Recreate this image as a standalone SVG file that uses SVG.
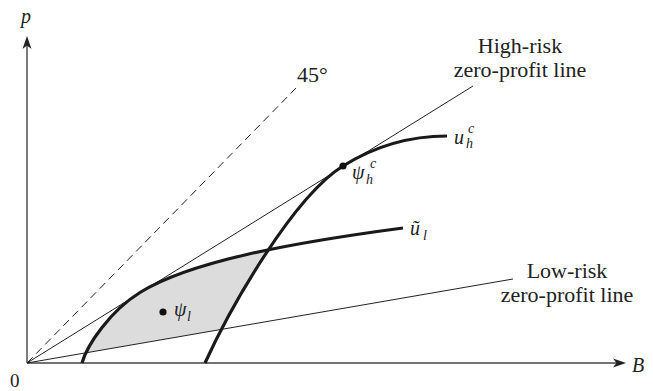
<svg xmlns="http://www.w3.org/2000/svg" width="653" height="391" viewBox="0 0 653 391">
<style>
text{font-family:"Liberation Serif","Times New Roman","DejaVu Serif",serif;fill:#222}
.lbl{font-size:22px}
.m{font-style:italic;font-size:20px}
.s{font-style:italic;font-size:14px}
.thin{stroke:#222;stroke-width:1;fill:none}
.axis{stroke:#444;stroke-width:1.4;fill:none}
.thick{stroke:#1a1a1a;stroke-width:3.2;fill:none;stroke-linecap:butt}
</style>
<defs>
<clipPath id="aboveLow"><path d="M0,363 L27,363 L653,254.7 L653,0 L0,0 Z"/></clipPath>
<clipPath id="leftUh"><path d="M205,363 C230,308 293,197 343,166 C383,141 420,136 447,136 L447,0 L0,0 L0,400 L205,400 Z"/></clipPath>
</defs>
<g id="shade" clip-path="url(#aboveLow)">
<path clip-path="url(#leftUh)" d="M82,363 C87,345 110,311 140,292.5 C190,261.5 290,243 403,228 L403,400 L82,400 Z" fill="#dcdcdc"/>
</g>
<g id="axes">
<line class="axis" x1="27" y1="363" x2="27" y2="42"/>
<line class="axis" x1="27" y1="363" x2="619" y2="363"/>
<polygon points="27,36 22.5,49 27,45.5 31.5,49" fill="#222"/>
<polygon points="626,363 613,358.5 616.5,363 613,367.5" fill="#222"/>
<text class="m" x="21" y="23">p</text>
<text class="m" x="632" y="372">B</text>
<text x="10" y="387" font-size="19">0</text>
</g>
<g id="connectors">
<line class="thin" x1="27" y1="363" x2="296" y2="88" stroke-dasharray="8,5"/>
<line class="thin" x1="27" y1="363" x2="473" y2="86"/>
<line class="thin" x1="27" y1="363" x2="513" y2="279"/>
</g>
<g id="uh">
<path class="thick" d="M205,363 C230,308 293,197 343,166 C383,141 420,136 447,136"/>
<text class="m" x="454" y="144">u</text>
<text class="s" x="468" y="133">c</text>
<text class="s" x="466" y="148">h</text>
</g>
<g id="ul">
<path class="thick" d="M82,363 C87,345 110,311 140,292.5 C190,261.5 290,243 403,228"/>
<text class="m" x="410" y="235">ũ</text>
<text class="s" x="423" y="240">l</text>
</g>
<g id="psi-h">
<circle cx="343" cy="166" r="3.6" fill="#111"/>
<text class="m" x="352" y="179">ψ</text>
<text class="s" x="366" y="184">h</text>
<text class="s" x="370" y="168">c</text>
</g>
<g id="psi-l">
<circle cx="163" cy="312" r="3.6" fill="#111"/>
<text class="m" x="174" y="316">ψ</text>
<text class="s" x="187" y="321">l</text>
</g>
<g id="label-45">
<text class="lbl" x="297" y="82">45°</text>
</g>
<g id="label-high">
<text class="lbl" x="520" y="53" text-anchor="middle">High-risk</text>
<text class="lbl" x="520" y="77" text-anchor="middle">zero-profit line</text>
</g>
<g id="label-low">
<text class="lbl" x="567" y="278" text-anchor="middle">Low-risk</text>
<text class="lbl" x="567" y="302" text-anchor="middle">zero-profit line</text>
</g>
</svg>
